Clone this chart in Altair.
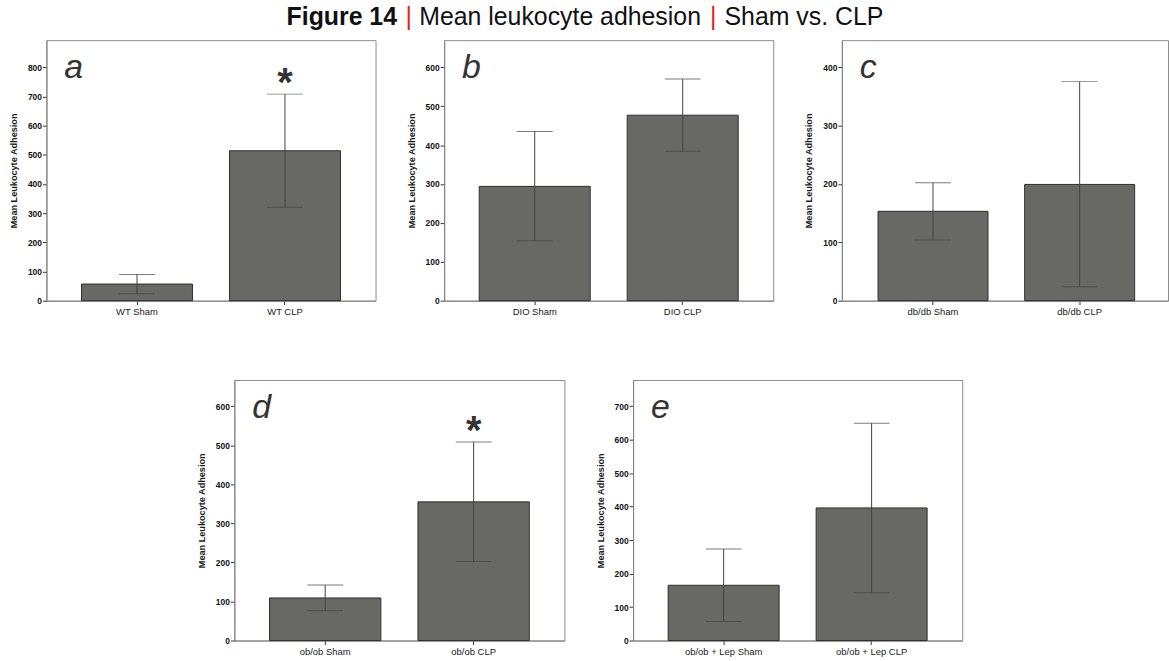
import altair as alt
import pandas as pd

# ---------------- data ----------------
A_GROUPS = ["WT Sham", "WT CLP"]
A_MEAN = [57, 514]
A_LOW = [24, 320]
A_HIGH = [90, 708]
A_SIG = [False, True]
A_TICKS = [0, 100, 200, 300, 400, 500, 600, 700, 800]

B_GROUPS = ["DIO Sham", "DIO CLP"]
B_MEAN = [294, 477]
B_LOW = [154, 384]
B_HIGH = [435, 570]
B_SIG = [False, False]
B_TICKS = [0, 100, 200, 300, 400, 500, 600]

C_GROUPS = ["db/db Sham", "db/db CLP"]
C_MEAN = [153, 199]
C_LOW = [104, 24]
C_HIGH = [202, 375]
C_SIG = [False, False]
C_TICKS = [0, 100, 200, 300, 400]

D_GROUPS = ["ob/ob Sham", "ob/ob CLP"]
D_MEAN = [109, 355]
D_LOW = [76, 202]
D_HIGH = [142, 508]
D_SIG = [False, True]
D_TICKS = [0, 100, 200, 300, 400, 500, 600]

E_GROUPS = ["ob/ob + Lep Sham", "ob/ob + Lep CLP"]
E_MEAN = [165, 396]
E_LOW = [57, 143]
E_HIGH = [273, 649]
E_SIG = [False, False]
E_TICKS = [0, 100, 200, 300, 400, 500, 600, 700]

TITLE_PARTS = ["Figure 14", "|", "Mean leukocyte adhesion", "|", "Sham vs. CLP"]
Y_TITLE = "Mean Leukocyte Adhesion"

# ---------------- styling / layout ----------------
FONT = "Liberation Sans"
BAR_FILL = "#686864"
BAR_EDGE = "#2e2e2e"
ERR = "#444444"
FRAME = "#8c8c8c"
AXIS_LINE = "#808080"
RED = "#e2231a"

PANEL_H = 262
PLOT_LEFT = 45                # x of the first plot area
AXIS_EXTENT = 36.3            # room taken by the y axis left of each plot
LEFT = PLOT_LEFT - AXIS_EXTENT
TOP = -4.5
COL_GAP = 30
ROW_GAP = 62.8


def panel(letter, groups, mean, low, high, sig, ticks, ymax, width, x_align=0.5):
    df = pd.DataFrame({"group": groups, "mean": mean, "low": low,
                       "high": high, "sig": sig})
    x = alt.X(
        "group:N", sort=groups,
        scale=alt.Scale(paddingInner=0.25, paddingOuter=0.237, align=x_align),
        axis=alt.Axis(title=None, labelAngle=0, labelFontSize=9.5,
                      labelColor="#1a1a1a", labelPadding=2, tickSize=4,
                      tickColor="#333333", domainColor=AXIS_LINE),
    )
    yscale = alt.Scale(domain=[0, ymax], nice=False, zero=True)
    yaxis = alt.Axis(title=Y_TITLE, values=ticks, grid=False,
                     labelFontSize=8.5, labelFontWeight="bold", labelColor="#111111",
                     labelPadding=1, tickSize=4, tickColor="#333333",
                     domainColor=AXIS_LINE, titleFontSize=9.2,
                     titleFontWeight="bold", titleColor="#1a1a1a", titlePadding=9)

    def y(field):
        return alt.Y(f"{field}:Q", scale=yscale, axis=yaxis)

    base = alt.Chart(df)
    bars = base.mark_bar(fill=BAR_FILL, stroke=BAR_EDGE, strokeWidth=1).encode(
        x=x, y=y("mean"))
    whisker = base.mark_rule(color=ERR, strokeWidth=1).encode(
        x=x, y=y("low"), y2="high:Q")
    cap_low = base.mark_tick(color=ERR, size=36, thickness=1).encode(x=x, y=y("low"))
    cap_high = base.mark_tick(color=ERR, size=36, thickness=1).encode(x=x, y=y("high"))
    star = base.transform_filter("datum.sig").mark_text(
        text="*", fontSize=40, fontWeight="bold", dy=2, baseline="alphabetic",
        color="#333333"
    ).encode(x=x, y=y("high"))
    tag = alt.Chart(pd.DataFrame({"label": [letter]})).mark_text(
        align="left", baseline="alphabetic", fontSize=34, fontStyle="italic",
        color="#333333"
    ).encode(x=alt.value(18), y=alt.value(38), text="label:N")
    return alt.layer(bars, whisker, cap_low, cap_high, star, tag).properties(
        width=width, height=PANEL_H)


pa = panel("a", A_GROUPS, A_MEAN, A_LOW, A_HIGH, A_SIG, A_TICKS, 893, 331)
pb = panel("b", B_GROUPS, B_MEAN, B_LOW, B_HIGH, B_SIG, B_TICKS, 670, 331)
pc = panel("c", C_GROUPS, C_MEAN, C_LOW, C_HIGH, C_SIG, C_TICKS, 446, 328, x_align=0.52)
pd_ = panel("d", D_GROUPS, D_MEAN, D_LOW, D_HIGH, D_SIG, D_TICKS, 667, 332)
pe = panel("e", E_GROUPS, E_MEAN, E_LOW, E_HIGH, E_SIG, E_TICKS, 778, 331)

# blank cell that pushes the second row to the right
spacer = alt.Chart(pd.DataFrame({"v": [0]})).mark_point(opacity=0, size=1).encode(
    x=alt.value(0), y=alt.value(0)
).properties(width=185.8 - COL_GAP - AXIS_EXTENT, height=10,
             view=alt.ViewBackground(stroke="transparent"))

# figure heading built from separately styled pieces (x measured from the first plot)
title_styles = [
    dict(fontWeight="bold", color="#111111", align="left", x=286.5),
    dict(fontWeight="normal", color=RED, align="center", x=409.3),
    dict(fontWeight="normal", color="#111111", align="left", x=419.9),
    dict(fontWeight="normal", color=RED, align="center", x=715.7),
    dict(fontWeight="normal", color="#111111", align="left", x=727.0),
]
title_layers = []
for part, st in zip(TITLE_PARTS, title_styles):
    title_layers.append(
        alt.Chart(pd.DataFrame({"t": [part]})).mark_text(
            fontSize=25, fontWeight=st["fontWeight"], color=st["color"],
            align=st["align"], baseline="top"
        ).encode(text="t:N", x=alt.value(st["x"] - PLOT_LEFT), y=alt.value(7))
    )
title_view = alt.layer(*title_layers).properties(
    width=900, height=34, view=alt.ViewBackground(stroke="transparent"))

row1 = alt.hconcat(pa, pb, pc, spacing=COL_GAP)
row2 = alt.hconcat(spacer, pd_, pe, spacing=COL_GAP)

chart = alt.vconcat(
    title_view, alt.vconcat(row1, row2, spacing=ROW_GAP), spacing=6
).properties(
    padding={"left": LEFT, "top": TOP, "right": 0, "bottom": 0}
).configure(
    font=FONT,
    view=alt.ViewConfig(stroke=FRAME, strokeWidth=1),
)

chart.save("out.html", embed_options={"renderer": "svg", "actions": False})
